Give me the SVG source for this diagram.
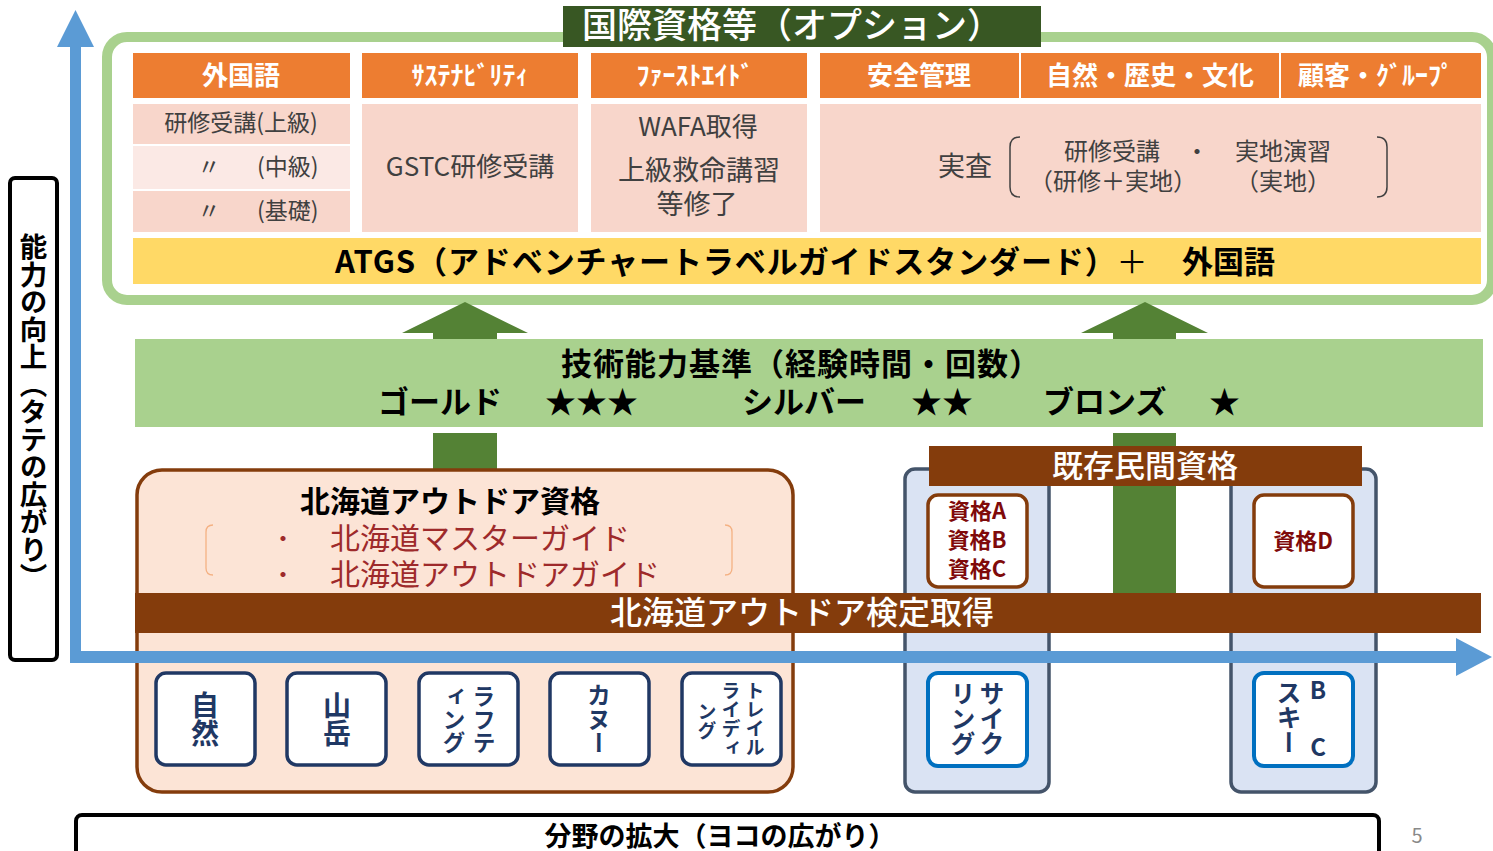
<svg xmlns="http://www.w3.org/2000/svg" width="1493" height="851" viewBox="0 0 1493 851">
<style>
text{font-family:'Noto Sans CJK JP','Noto Sans',sans-serif;dominant-baseline:central}
.hdr{fill:#fff;font-size:26px;font-weight:700;text-anchor:middle}
.hb{fill:#ed7d31}
.pk{fill:#f8d6cb}
.bd{fill:#404040}
.c{text-anchor:middle}
.v{writing-mode:vertical-rl;text-anchor:middle;font-weight:700;fill:#1f3864}
.nav{fill:#fff;stroke:#203864;stroke-width:3.5}
.blu{fill:#fff;stroke:#0070c0;stroke-width:4}
.brn{fill:#fff;stroke:#843c0c;stroke-width:3.5}
.red{fill:#7f0a0a;font-size:22px;font-weight:700;text-anchor:middle}
.gold{fill:#000;font-size:31px;font-weight:700}
</style>

<!-- vertical label -->
<g id="label-vertical">
<rect x="10" y="178" width="47" height="482" rx="5" fill="#fff" stroke="#000" stroke-width="4"/>
<text x="33.5" y="412" style="writing-mode:vertical-rl;text-anchor:middle" font-size="27.5" font-weight="700" fill="#000">能力の向上（タテの広がり）</text>
</g>

<!-- options (international) frame -->
<g id="options">
<rect x="107" y="37" width="1385" height="263" rx="20" fill="#fff" stroke="#a9d18e" stroke-width="10"/>
<rect x="563" y="6" width="478" height="41" fill="#385723"/>
<text x="792" y="22.5" class="c" font-size="35" font-weight="500" fill="#fff">国際資格等（オプション）</text>

<rect class="hb" x="133" y="53" width="217" height="45"/>
<rect class="hb" x="362" y="53" width="216" height="45"/>
<rect class="hb" x="591" y="53" width="216" height="45"/>
<rect class="hb" x="820" y="53" width="199" height="45"/>
<rect class="hb" x="1021" y="53" width="258" height="45"/>
<rect class="hb" x="1281" y="53" width="200" height="45"/>
<text class="hdr" x="241" y="73.5">外国語</text>
<text class="hdr" x="470" y="73.5">ｻｽﾃﾅﾋﾞﾘﾃｨ</text>
<text class="hdr" x="695" y="73.5">ﾌｧｰｽﾄｴｲﾄﾞ</text>
<text class="hdr" x="919" y="73.5">安全管理</text>
<text class="hdr" x="1150" y="73.5">自然・歴史・文化</text>
<text class="hdr" x="1376" y="73.5">顧客・ｸﾞﾙｰﾌﾟ</text>

<rect class="pk" x="133" y="104" width="217" height="40"/>
<rect x="133" y="146" width="217" height="43" fill="#fbe9e5"/>
<rect class="pk" x="133" y="191" width="217" height="41"/>
<rect class="pk" x="362" y="104" width="216" height="128"/>
<rect class="pk" x="591" y="104" width="216" height="128"/>
<rect class="pk" x="820" y="104" width="661" height="128"/>

<text class="bd c" x="241" y="121" font-size="23">研修受講(上級)</text>
<text class="bd c" x="209" y="165" font-size="23">〃</text>
<text class="bd" x="257" y="165" font-size="23">(中級)</text>
<text class="bd c" x="209" y="209" font-size="23">〃</text>
<text class="bd" x="257" y="209" font-size="23">(基礎)</text>
<text class="bd c" x="470" y="164" font-size="26">GSTC研修受講</text>
<text class="bd c" x="698" y="124" font-size="26">WAFA取得</text>
<text class="bd c" x="699" y="168" font-size="27">上級救命講習</text>
<text class="bd c" x="697" y="202" font-size="27">等修了</text>
<text class="bd c" x="965" y="164" font-size="27">実査</text>
<path d="M1020,137 Q1010,137 1010,147 L1010,187 Q1010,197 1020,197" fill="none" stroke="#404040" stroke-width="1.5"/>
<path d="M1377,137 Q1387,137 1387,147 L1387,187 Q1387,197 1377,197" fill="none" stroke="#404040" stroke-width="1.5"/>
<text class="bd c" x="1112" y="149" font-size="24">研修受講</text>
<text class="bd c" x="1197" y="149" font-size="24">・</text>
<text class="bd c" x="1283" y="149" font-size="24">実地演習</text>
<text class="bd c" x="1113" y="179" font-size="24">（研修＋実地）</text>
<text class="bd c" x="1283" y="179" font-size="24">（実地）</text>

<rect x="133" y="238" width="1348" height="46" fill="#ffd966"/>
<text x="335" y="259" font-size="31" font-weight="700" fill="#000" letter-spacing="0.9">ATGS（アドベンチャートラベルガイドスタンダード）</text>
<text x="1132" y="259" class="c" font-size="31" fill="#000">＋</text>
<text x="1182" y="259" font-size="31" font-weight="700" fill="#000">外国語</text>
</g>

<!-- connectors: up arrows -->
<g id="connectors">
<polygon points="465,302 528,333 497,333 497,340 433,340 433,333 402,333" fill="#548235"/>
<polygon points="1145,302 1208,333 1176,333 1176,340 1113,340 1113,333 1081,333" fill="#548235"/>
<rect x="433" y="433" width="64" height="37" fill="#548235"/>
<rect x="1113" y="433" width="63" height="160" fill="#548235"/>
</g>

<!-- technical standard band -->
<g id="standard">
<rect x="135" y="339" width="1348" height="88" fill="#a9d18e"/>
<text x="801" y="361" class="c" font-size="31" font-weight="700" fill="#000" letter-spacing="1">技術能力基準（経験時間・回数）</text>
<text class="gold" x="378" y="399">ゴールド</text>
<text class="gold" x="545" y="399">★★★</text>
<text class="gold" x="742" y="399">シルバー</text>
<text class="gold" x="911" y="399">★★</text>
<text class="gold" x="1043" y="399">ブロンズ</text>
<text class="gold" x="1209" y="399">★</text>
</g>

<!-- Hokkaido outdoor qualification -->
<g id="hokkaido">
<rect x="137" y="470" width="656" height="322" rx="25" fill="#fce4d6" stroke="#843c0c" stroke-width="3.5"/>
<text x="450" y="499" class="c" font-size="30" font-weight="700" fill="#000">北海道アウトドア資格</text>
<path d="M213,525 Q206,525 206,532 L206,568 Q206,575 213,575" fill="none" stroke="#f4b183" stroke-width="1.3"/>
<path d="M725,525 Q732,525 732,532 L732,568 Q732,575 725,575" fill="none" stroke="#f4b183" stroke-width="1.3"/>
<text x="283" y="536" class="c" font-size="24" fill="#9e2a2b">・</text>
<text x="330" y="536" font-size="30" fill="#9e2a2b">北海道マスターガイド</text>
<text x="283" y="572" class="c" font-size="24" fill="#9e2a2b">・</text>
<text x="330" y="572" font-size="30" fill="#9e2a2b">北海道アウトドアガイド</text>
</g>

<!-- existing private qualifications -->
<g id="private">
<rect x="905" y="469" width="144" height="323" rx="10" fill="#dae3f3" stroke="#44546a" stroke-width="3.5"/>
<rect x="1231" y="469" width="145" height="323" rx="10" fill="#dae3f3" stroke="#44546a" stroke-width="3.5"/>
<rect x="929" y="446" width="433" height="40" fill="#843c0c"/>
<text x="1145" y="463" class="c" font-size="31" font-weight="500" fill="#fff">既存民間資格</text>
<rect class="brn" x="928" y="495" width="99" height="92" rx="10"/>
<text class="red" x="977" y="509">資格A</text>
<text class="red" x="977" y="538">資格B</text>
<text class="red" x="977" y="567">資格C</text>
<rect class="brn" x="1254" y="495" width="99" height="92" rx="10"/>
<text class="red" x="1303" y="539">資格D</text>
</g>

<!-- certification bar -->
<g id="kentei">
<rect x="135" y="593" width="1346" height="40" fill="#843c0c"/>
<text x="802" y="610" class="c" font-size="32" font-weight="500" fill="#fff">北海道アウトドア検定取得</text>
</g>

<!-- axes -->
<g id="axes">
<rect x="70" y="45" width="11" height="618" fill="#5b9bd5"/>
<polygon points="75.5,10 94,47 57,47" fill="#5b9bd5"/>
<rect x="70" y="651" width="1388" height="12" fill="#5b9bd5"/>
<polygon points="1456,638 1492,657 1456,676" fill="#5b9bd5"/>
</g>

<!-- activity fields -->
<g id="field-shizen"><rect class="nav" x="156" y="673" width="99" height="92" rx="10"/><text class="v" x="205" y="719" font-size="28">自然</text></g>
<g id="field-sangaku"><rect class="nav" x="287" y="673" width="99" height="92" rx="10"/><text class="v" x="337" y="719" font-size="28">山岳</text></g>
<g id="field-rafting"><rect class="nav" x="419" y="673" width="99" height="92" rx="10"/><text class="v" x="484" y="719" font-size="23">ラフテ</text><text class="v" x="454" y="719" font-size="23">ィング</text></g>
<g id="field-canoe"><rect class="nav" x="550" y="673" width="99" height="92" rx="10"/><text class="v" x="599" y="719" font-size="24">カヌー</text></g>
<g id="field-trail"><rect class="nav" x="682" y="673" width="99" height="92" rx="10"/><text class="v" x="755" y="719" font-size="19">トレイル</text><text class="v" x="731" y="719" font-size="19">ライディ</text><text class="v" x="707" y="721" font-size="19">ング</text></g>
<g id="field-cycling"><rect class="blu" x="928" y="673" width="99" height="93" rx="10"/><text class="v" x="992" y="718" font-size="25">サイク</text><text class="v" x="963" y="718" font-size="25">リング</text></g>
<g id="field-ski"><rect class="blu" x="1254" y="673" width="99" height="93" rx="10"/><text class="v" x="1289" y="717" font-size="25">スキー</text><text x="1318" y="688" class="c" font-size="24" font-weight="700" fill="#1f3864">B</text><text x="1318" y="745" class="c" font-size="24" font-weight="700" fill="#1f3864">C</text></g>

<!-- horizontal label -->
<g id="label-horizontal">
<rect x="76" y="815" width="1303" height="60" rx="6" fill="#fff" stroke="#000" stroke-width="4"/>
<text x="720" y="834" class="c" font-size="27" font-weight="700" fill="#000">分野の拡大（ヨコの広がり）</text>
</g>
<text x="1417" y="834" class="c" font-size="20" fill="#898989">5</text>
</svg>
